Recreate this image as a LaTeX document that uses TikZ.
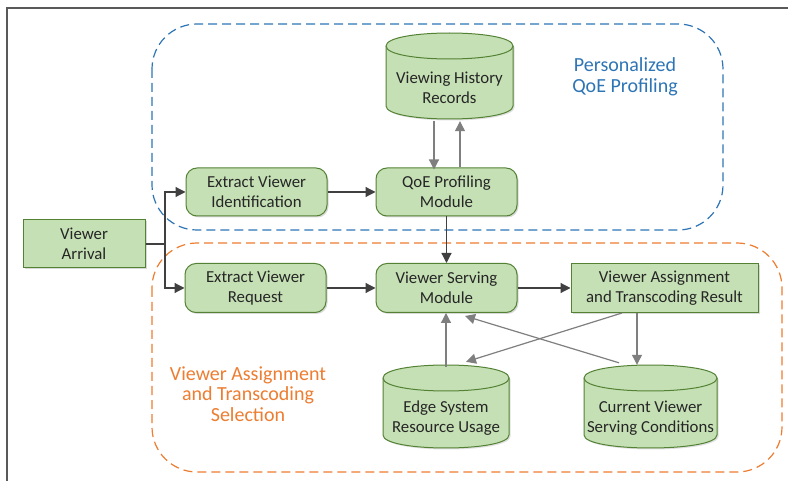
\documentclass[tikz,border=0pt]{standalone}
\usepackage{fontspec}
\setmainfont{Carlito}
\usetikzlibrary{arrows.meta,shadows}
\definecolor{boxfill}{HTML}{C5E0B4}
\definecolor{boxdraw}{HTML}{548235}
\definecolor{qblue}{HTML}{2E75B6}
\definecolor{qorange}{HTML}{ED7D31}
\definecolor{darr}{HTML}{404040}
\definecolor{garr}{HTML}{7F7F7F}
\definecolor{txt}{HTML}{262626}
\newcommand\dbcyl[6]{%
  \fill[black, opacity=0.12] (#2+1.5,#4+14.5) -- (#2+1.5,#5-11.5) .. controls (#2+1.5,#5+5.83) and (#3+1.5,#5+5.83) .. (#3+1.5,#5-11.5) -- (#3+1.5,#4+14.5) .. controls (#3+1.5,#4-2.83) and (#2+1.5,#4-2.83) .. (#2+1.5,#4+14.5) -- cycle;
  \filldraw[cylstyle] (#2,#4+13) -- (#2,#5-13) .. controls (#2,#5+4.33) and (#3,#5+4.33) .. (#3,#5-13) -- (#3,#4+13) .. controls (#3,#4-4.33) and (#2,#4-4.33) .. (#2,#4+13) -- cycle;
  \draw[cylstyle] (#2,#4+13) .. controls (#2,#4+30.33) and (#3,#4+30.33) .. (#3,#4+13);
  \node[inner sep=0pt, minimum width={(#3-#2)*1pt}, minimum height={(#5-#4)*1pt}] (#1) at ({(#2+#3)/2},{(#4+#5)/2}) {};
  \node[cyltext] (#1t) at ({(#2+#3)/2},{(#4+#5)/2+12}) {#6};
}
\begin{document}
\begin{tikzpicture}[x=1pt,y=-1pt,
  proc/.style={draw=boxdraw, fill=boxfill, line width=1pt, rounded corners=11pt,
    align=center, font=\fontsize{16.8}{20}\selectfont, text=txt, inner sep=0pt,
    drop shadow={opacity=0.15, shadow xshift=1.5pt, shadow yshift=-1.5pt, fill=black}},
  plainbox/.style={proc, rounded corners=0pt},
  cylstyle/.style={draw=boxdraw, fill=boxfill, line width=1pt},
  cyltext/.style={align=center, font=\fontsize{16.8}{20}\selectfont, text=txt, inner sep=0pt},
  darrow/.style={draw=darr, line width=1.2pt, -{Triangle[length=10pt,width=10pt]}},
  garrow/.style={draw=garr, line width=1.2pt, -{Triangle[length=10pt,width=10pt]}},
  region/.style={line width=1.2pt, dash pattern=on 9pt off 5pt, rounded corners=45pt}
]
\useasboundingbox (0,0) rectangle (788,481);
\fill[white] (0,0) rectangle (788,481);
% outer frame
\draw[draw=black!65, line width=1.2pt] (7,481) -- (7,8) -- (788,8);
% regions
\draw[region, draw=qblue] (152,24) rectangle (723,230);
\draw[region, draw=qorange] (152,243) rectangle (782,472);
% labels
\node[text=qblue, font=\fontsize{20}{20.5}\selectfont, align=center, inner sep=0pt] (lblq) at (625,77) {Personalized\\QoE Profiling};
\node[text=qorange, font=\fontsize{20}{20.5}\selectfont, align=center, inner sep=0pt] (lblv) at (248,394) {Viewer Assignment\\and Transcoding\\Selection};
% boxes
\node[plainbox, minimum width=122pt, minimum height=48pt] (arrival) at (84,244) {Viewer\\Arrival};
\node[proc, minimum width=141pt, minimum height=48pt] (extid) at (256.5,192) {Extract Viewer\\Identification};
\node[proc, minimum width=141pt, minimum height=48pt] (qoe) at (446.5,192) {QoE Profiling\\Module};
\node[proc, minimum width=141pt, minimum height=49pt] (extreq) at (255.5,288) {Extract Viewer\\Request};
\node[proc, minimum width=141pt, minimum height=49pt] (serve) at (446.5,288) {Viewer Serving\\Module};
\node[plainbox, minimum width=187pt, minimum height=49pt] (result) at (664.5,288) {Viewer Assignment\\and Transcoding Result};
% databases
\dbcyl{vhr}{386}{513}{33}{119}{Viewing History\\Records}
\dbcyl{edge}{383}{509}{365}{448}{Edge System\\Resource Usage}
\dbcyl{cur}{584}{717}{365}{448}{Current Viewer\\Serving Conditions}
% connectors
\coordinate (jn) at (165,244);
\draw[draw=darr, line width=1.2pt] (arrival.east) -- (jn);
\draw[darrow] (jn) |- (extid.west);
\draw[darrow] (jn) |- (extreq.west);
\draw[darrow] (extid.east) -- (qoe.west);
\draw[darrow] (extreq.east) -- (serve.west);
\draw[darrow] (serve.east) -- (result.west);
\draw[darrow] (qoe.south) -- (serve.north);
\draw[garrow] ([xshift=-15.5pt,yshift=-2pt]vhr.south) -- ([xshift=-15.5pt,yshift=-2pt]vhr.south |- qoe.north);
\draw[garrow] ([xshift=10.5pt]vhr.south |- qoe.north) -- ([xshift=10.5pt,yshift=-2pt]vhr.south);
\draw[garrow] ([yshift=-2pt]edge.north) -- (edge.north |- serve.south);
\draw[garrow] ([xshift=-27.5pt]result.south) -- ([xshift=-27.5pt]result.south |- cur.north);
\draw[garrow] ([xshift=-42.5pt]result.south) -- ([xshift=20pt,yshift=3pt]edge.north);
\draw[garrow] ([xshift=-31.5pt,yshift=2pt]cur.north) -- ([xshift=18.5pt,yshift=-3pt]serve.south);
\end{tikzpicture}
\end{document}
